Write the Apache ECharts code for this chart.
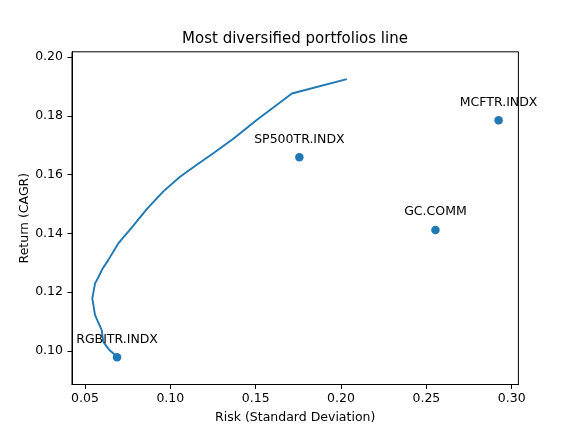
<!DOCTYPE html>
<html>
<head>
<meta charset="utf-8">
<script src="https://cdn.jsdelivr.net/npm/echarts@6/dist/echarts.min.js"></script>
<style>
  html, body { margin: 0; padding: 0; background: #fff; }
  #chart { width: 576px; height: 432px; }
</style>
</head>
<body>
<div id="chart"></div>
<script>
// ---- data ----
const assetNames  = ['RGBITR.INDX', 'SP500TR.INDX', 'GC.COMM', 'MCFTR.INDX'];
const assetRisk   = [0.0688, 0.1756, 0.2553, 0.2923];
const assetReturn = [0.0979, 0.1659, 0.1412, 0.1785];

const frontierRisk   = [0.0686, 0.0640, 0.0607, 0.0598, 0.0559, 0.0543, 0.0559, 0.0578, 0.0601, 0.0637, 0.0695, 0.0774, 0.0862, 0.0959, 0.1057, 0.1155, 0.1252, 0.1369, 0.1506, 0.1623, 0.1712, 0.2034];
const frontierReturn = [0.0981, 0.1005, 0.1032, 0.1071, 0.1122, 0.1179, 0.1230, 0.1250, 0.1278, 0.1310, 0.1366, 0.1420, 0.1483, 0.1543, 0.1593, 0.1634, 0.1673, 0.1722, 0.1786, 0.1837, 0.1876, 0.1925];

const xTicks = [0.05, 0.10, 0.15, 0.20, 0.25, 0.30];
const yTicks = [0.10, 0.12, 0.14, 0.16, 0.18, 0.20];

const titleText = 'Most diversified portfolios line';
const xName = 'Risk (Standard Deviation)';
const yName = 'Return (CAGR)';

// ---- chart ----
const FONT = 'DejaVu Sans';
const BLUE = '#1f77b4';
const chart = echarts.init(document.getElementById('chart'), null, { renderer: 'canvas' });

const frontierData = frontierRisk.map((r, i) => [r, frontierReturn[i]]);
const assetData = assetNames.map((n, i) => ({ name: n, value: [assetRisk[i], assetReturn[i]] }));

chart.setOption({
  animation: false,
  backgroundColor: '#ffffff',
  title: {
    text: titleText,
    left: 295,
    textAlign: 'center',
    top: 32,
    padding: 0,
    textStyle: { fontFamily: FONT, fontSize: 15, fontWeight: 'normal', color: '#000' }
  },
  grid: {
    left: 72, right: 57.6, top: 51.8, bottom: 47.5,
    show: true, borderColor: '#000', borderWidth: 1, backgroundColor: 'transparent'
  },
  xAxis: {
    type: 'value',
    min: 0.0424, max: 0.3039,
    name: xName,
    nameLocation: 'middle',
    nameGap: 27,
    nameMoveOverlap: false,
    nameTextStyle: { fontFamily: FONT, fontSize: 12.5, color: '#000' },
    axisLine: { show: true, lineStyle: { color: '#000', width: 1 } },
    axisTick: { show: true, inside: false, length: 4.5, lineStyle: { color: '#000', width: 1 }, customValues: xTicks },
    axisLabel: {
      fontFamily: FONT, fontSize: 12.5, color: '#000', margin: 8,
      customValues: xTicks,
      formatter: v => v.toFixed(2)
    },
    splitLine: { show: false }
  },
  yAxis: {
    type: 'value',
    min: 0.0886, max: 0.2018,
    name: yName,
    nameLocation: 'middle',
    nameGap: 41,
    nameRotate: 90,
    nameMoveOverlap: false,
    nameTextStyle: { fontFamily: FONT, fontSize: 12.5, color: '#000' },
    axisLine: { show: true, lineStyle: { color: '#000', width: 1 } },
    axisTick: { show: true, inside: false, length: 4.5, lineStyle: { color: '#000', width: 1 }, customValues: yTicks },
    axisLabel: {
      fontFamily: FONT, fontSize: 12.5, color: '#000', margin: 9,
      customValues: yTicks,
      formatter: v => v.toFixed(2)
    },
    splitLine: { show: false }
  },
  series: [
    {
      type: 'line',
      data: frontierData,
      showSymbol: false,
      symbol: 'none',
      smooth: false,
      lineStyle: { color: BLUE, width: 1.9 },
      z: 2
    },
    {
      type: 'scatter',
      data: assetData,
      symbol: 'circle',
      symbolSize: 8.5,
      itemStyle: { color: BLUE, opacity: 1 },
      label: {
        show: true,
        position: 'top',
        distance: 7,
        formatter: p => p.name,
        fontFamily: FONT, fontSize: 12.5, color: '#000'
      },
      z: 3
    }
  ]
});
</script>
</body>
</html>
